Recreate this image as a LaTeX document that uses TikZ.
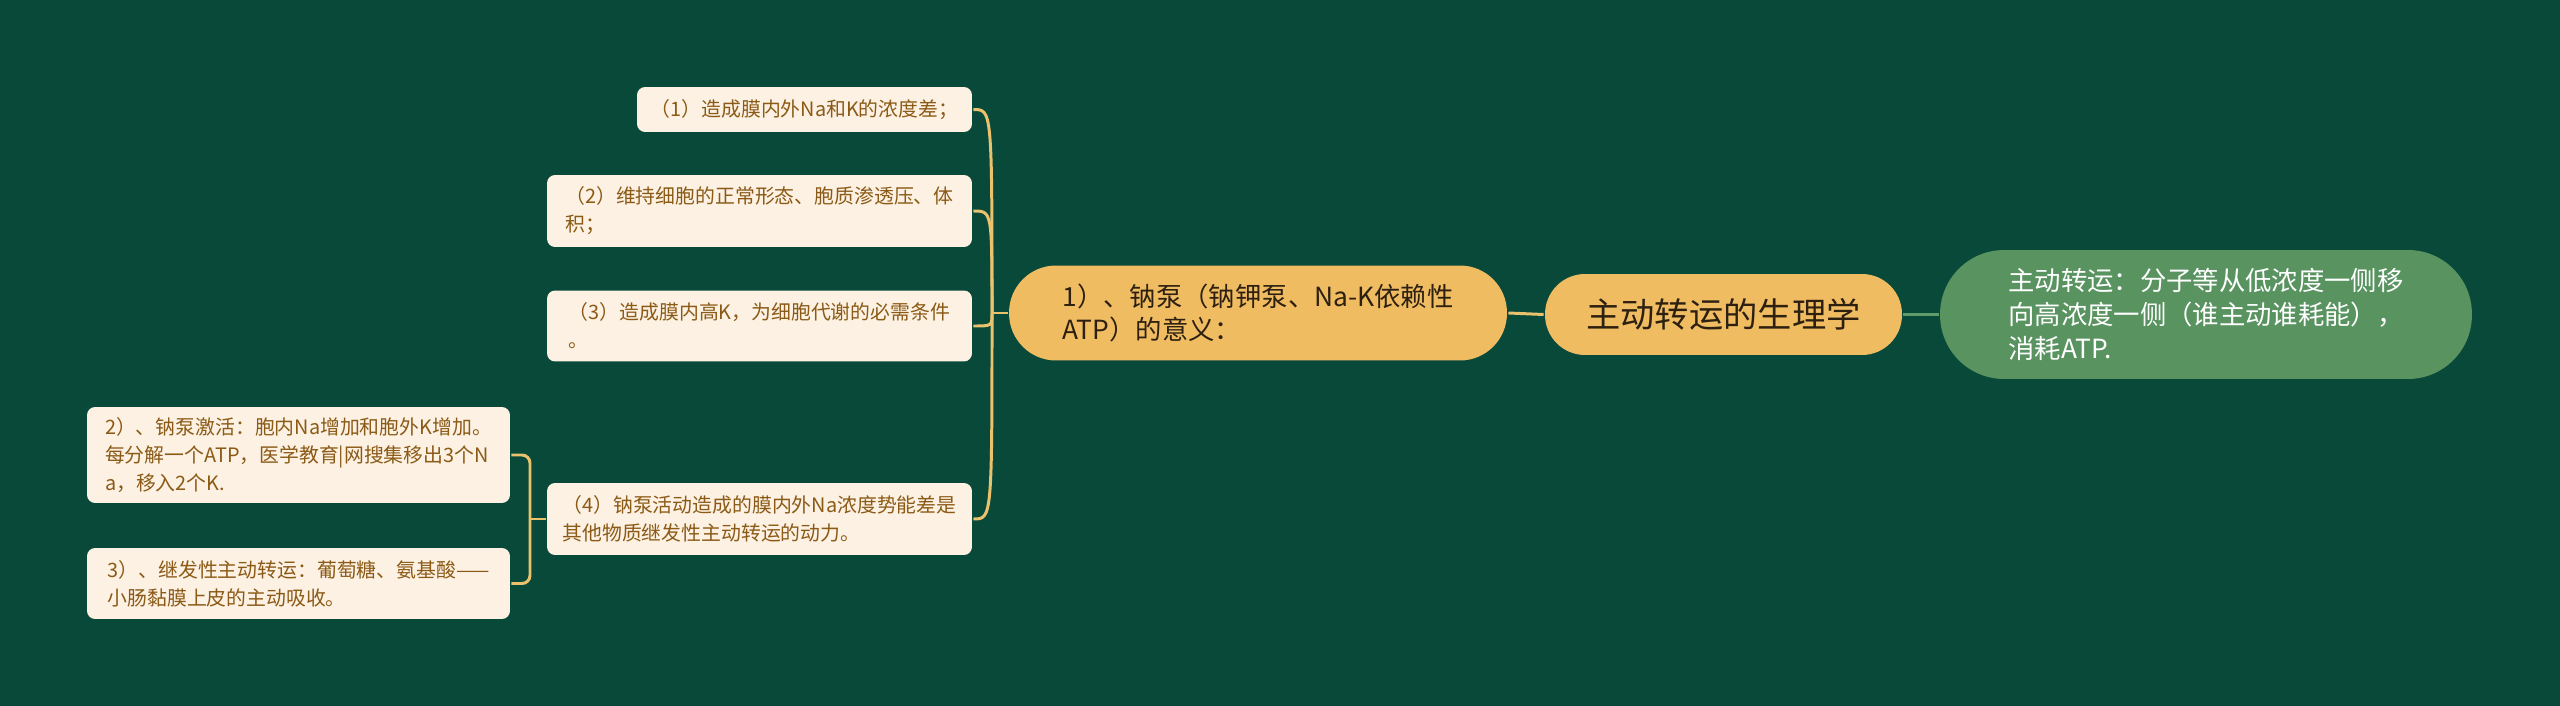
\documentclass[tikz,border=0pt]{standalone}
\usepackage{fontspec}
\newfontfamily\cjk{Noto Sans CJK SC}
\usepackage{tikz}
\usetikzlibrary{positioning}
\definecolor{bggreen}{RGB}{8,73,58}
\definecolor{leaffill}{RGB}{252,241,226}
\definecolor{leaftext}{RGB}{139,90,22}
\definecolor{goldfill}{RGB}{240,188,98}
\definecolor{darktext}{RGB}{45,32,16}
\definecolor{sidefill}{RGB}{88,147,96}
\definecolor{goldline}{RGB}{234,194,110}
\definecolor{sideline}{RGB}{96,155,106}

\begin{document}
\begin{tikzpicture}[x=0.02cm, y=-0.02cm, line width=1.7pt]
   \fill[bggreen] (0,0) rectangle (2560,706);
   \begin{scope}[every node/.style={rounded corners=0.16cm, fill=leaffill, text=leaftext, align=left, inner sep=0pt, font=\cjk\fontsize{11.3}{15.9}\selectfont}]
    \node (lf1) at (804.5,109.5) [minimum width=6.7cm, minimum height=0.9cm] {（1）造成膜内外Na和K的浓度差；};
    \node (lf2) at (759.5,211) [minimum width=8.5cm, minimum height=1.44cm] {（2）维持细胞的正常形态、胞质渗透压、体\\积；};
    \node (lf3) at (759.5,326) [minimum width=8.5cm, minimum height=1.42cm] {（3）造成膜内高K，为细胞代谢的必需条件\\。};
    \node (lf4) at (759.5,519) [minimum width=8.5cm, minimum height=1.44cm] {（4）钠泵活动造成的膜内外Na浓度势能差是\\其他物质继发性主动转运的动力。};
    \node (sb1) at (298.5,455) [minimum width=8.46cm, minimum height=1.92cm] {2）、钠泵激活：胞内Na增加和胞外K增加。\\每分解一个ATP，医学教育|网搜集移出3个N\\a，移入2个K.};
    \node (sb2) at (298.5,583.5) [minimum width=8.46cm, minimum height=1.42cm] {3）、继发性主动转运：葡萄糖、氨基酸——\\小肠黏膜上皮的主动吸收。};
   \end{scope}
   \begin{scope}[every node/.style={fill=goldfill, text=darktext, align=left, inner sep=0pt}]
    \node (lv1) at (1258,313) [minimum width=9.96cm, minimum height=1.9cm, rounded corners=0.94cm, font=\cjk\fontsize{15}{19.3}\selectfont] {1）、钠泵（钠钾泵、Na-K依赖性\\ATP）的意义：};
    \node (root) at (1723.5,314.5) [minimum width=7.14cm, minimum height=1.62cm, rounded corners=0.8cm, font=\cjk\fontsize{19.5}{24}\selectfont] {主动转运的生理学};
   \end{scope}
   \node (side) at (2206,314.5) [fill=sidefill, text=white, align=left, inner sep=0pt, minimum width=10.64cm, minimum height=2.58cm, rounded corners=1.28cm, font=\cjk\fontsize{15}{19.3}\selectfont] {主动转运：分子等从低浓度一侧移\\向高浓度一侧（谁主动谁耗能），\\消耗ATP.};
   \coordinate (j1) at (992,313);
   \coordinate (j2) at (530,519);
   \begin{scope}[goldline]
    \draw (root.west) -- (lv1.east);
    \draw (lv1.west) -- (j1);
    \draw (j1) .. controls (j1 |- lf1.east) .. (lf1.east);
    \draw (j1) .. controls (j1 |- lf2.east) .. (lf2.east);
    \draw (j1) .. controls (j1 |- lf3.east) .. (lf3.east);
    \draw (j1) .. controls (j1 |- lf4.east) .. (lf4.east);
    \draw (lf4.west) -- (j2);
    \draw[rounded corners=0.16cm] (j2) |- (sb1.east);
    \draw[rounded corners=0.16cm] (j2) |- (sb2.east);
   \end{scope}
   \draw[sideline] (root.east) -- (side.west);
\end{tikzpicture}
\end{document}
